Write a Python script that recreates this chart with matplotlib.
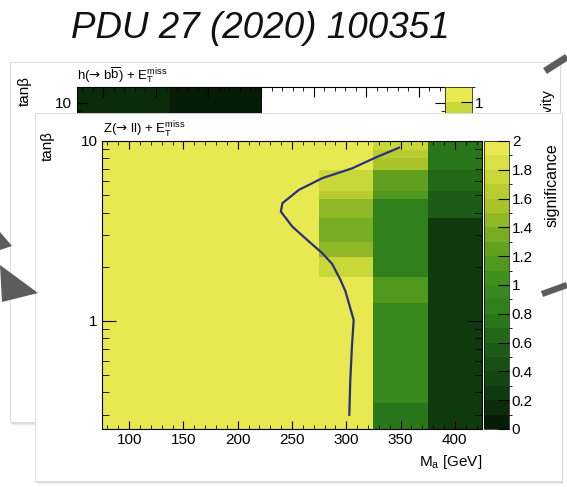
import numpy as np
import matplotlib
matplotlib.use('Agg')
import matplotlib.pyplot as plt
from matplotlib.colors import ListedColormap, BoundaryNorm
from matplotlib.patches import Rectangle, Polygon
from matplotlib.ticker import FixedLocator, MultipleLocator, LogLocator, NullFormatter, FuncFormatter

plt.rcParams['font.family'] = ['Liberation Sans', 'DejaVu Sans']
plt.rcParams['mathtext.fontset'] = 'custom'
plt.rcParams['mathtext.rm'] = 'Liberation Sans'
plt.rcParams['mathtext.it'] = 'Liberation Sans:italic'
plt.rcParams['mathtext.bf'] = 'Liberation Sans:bold'
plt.rcParams['mathtext.sf'] = 'DejaVu Sans'

# front plot: Z(->ll) + MET significance
ma_edges = [75, 125, 175, 225, 275, 325, 375, 425]
tanb_edges = [0.25, 0.35, 1.25, 1.75, 2.25, 2.75, 3.75, 4.75, 5.25, 6.9, 8.0, 8.9, 10]
# one list per M_a column, tan(beta) rows bottom -> top
sig_100 = [2, 2, 2, 2, 2, 2, 2, 2, 2, 2, 2, 2]
sig_150 = [2, 2, 2, 2, 2, 2, 2, 2, 2, 2, 2, 2]
sig_200 = [2, 2, 2, 2, 2, 2, 2, 2, 2, 2, 2, 2]
sig_250 = [2, 2, 2, 2, 2, 2, 2, 2, 2, 2, 2, 2]
sig_300 = [2, 2, 2, 1.72, 1.45, 1.35, 1.45, 1.6, 1.72, 2, 2, 2]
sig_350 = [0.75, 0.95, 1.15, 0.82, 0.82, 0.82, 0.82, 1.12, 1.25, 1.55, 1.62, 1.75]
sig_400 = [0.28, 0.28, 0.28, 0.28, 0.28, 0.28, 0.5, 0.5, 0.65, 0.75, 0.75, 0.75]
sig_ticks = [0, 0.2, 0.4, 0.6, 0.8, 1, 1.2, 1.4, 1.6, 1.8, 2]
ma_ticks = [100, 150, 200, 250, 300, 350, 400]

# 2 sigma contour
curve_ma = [348.6, 326.6, 305.2, 277.8, 265.6, 256.4, 241.2, 239.7, 250.3, 265.6,
            277.8, 287.0, 294.6, 299.2, 306.8, 305.2, 303.7, 302.8]
curve_tanb = [9.18, 8.07, 7.04, 6.21, 5.70, 5.35, 4.51, 4.05, 3.34, 2.76,
              2.38, 2.07, 1.69, 1.46, 1.01, 0.72, 0.47, 0.30]

# back plot: h(->bb) + MET (only the top strip is visible)
back_ma_edges = [75, 163, 251]
back_tanb_edges = [0.78, 12.3]
back_vals = [[0.12, 0.03]]

colors = ['#061c06', '#0a2c0a', '#0e3a0e', '#124612', '#165014', '#1c5c16', '#226818',
          '#2a761a', '#30801c', '#38881e', '#40901e', '#50981e', '#62a020', '#78ac22',
          '#90b826', '#a8c42a', '#b8cc30', '#c8d838', '#d8e048', '#e8e850']
cmap = ListedColormap(colors)
cmap.set_over('#e8e850')
norm = BoundaryNorm(np.linspace(0, 2, 21), 20)
back_norm = BoundaryNorm(np.linspace(0, 1.1, 12), 20)

W, H = 567, 487


def box(x0, y0, x1, y1):
    return [x0 / W, 1 - y1 / H, (x1 - x0) / W, (y1 - y0) / H]


def panel(a, x0, y0, x1, y1):
    for i, al in enumerate([0.06, 0.05, 0.04, 0.03]):
        a.add_patch(Rectangle((x0 + i * 0.7, y0 + i + 1), x1 - x0, y1 - y0,
                              fc='k', alpha=al, ec='none'))
    a.add_patch(Rectangle((x0, y0), x1 - x0, y1 - y0, fc='white', ec='#d8d8d8', lw=0.6))


fig = plt.figure(figsize=(W / 100, H / 100), dpi=100)

bg = fig.add_axes([0, 0, 1, 1])
bg.set_xlim(0, W)
bg.set_ylim(H, 0)
bg.axis('off')
bg.set_zorder(0)
bg.text(260, 28, 'PDU 27 (2020) 100351', ha='center', va='center',
        fontsize=26.5, style='italic', color='#111111')
panel(bg, 10, 62, 560, 422)
bg.add_patch(Polygon([(0, 232), (12, 246), (0, 250)], closed=True, fc='#5c5c5c', ec='none'))
bg.text(25, 91, 'tanβ', rotation=90, ha='center', va='center', fontsize=11)
bg.text(77, 75, r'h($\mathsf{→}$ b$\overline{\mathrm{b}}$) + E$_{\mathrm{T}}^{\mathrm{miss}}$',
        ha='left', va='center', fontsize=9.5)
sens = bg.text(548, 122, 'sensitivity', rotation=90, ha='center', va='center', fontsize=11,
               clip_on=True)
sens.set_clip_path(Rectangle((0, 0), W, 112, transform=bg.transData))

# back plot
axb = fig.add_axes(box(77, 87, 445, 300))
axb.set_zorder(1)
axb.pcolormesh(back_ma_edges, back_tanb_edges, back_vals, cmap=cmap, norm=back_norm)
axb.set_yscale('log')
axb.set_xlim(75, 425)
axb.set_ylim(0.78, 12.3)
axb.yaxis.set_major_locator(FixedLocator([1, 10]))
axb.yaxis.set_major_formatter(FuncFormatter(lambda v, p: f'{v:g}'))
axb.yaxis.set_minor_locator(LogLocator(subs=np.arange(2, 10), numticks=10))
axb.yaxis.set_minor_formatter(NullFormatter())
axb.xaxis.set_major_locator(MultipleLocator(50))
axb.xaxis.set_minor_locator(MultipleLocator(10))
axb.tick_params(which='both', direction='in', top=True, right=True, labelbottom=False,
                labelsize=11, pad=4)
axb.tick_params(which='major', length=7)
axb.tick_params(which='minor', length=3)
caxb = fig.add_axes(box(445, 87, 472, 252))
caxb.set_zorder(1)
cbb = fig.colorbar(plt.cm.ScalarMappable(norm=back_norm, cmap=cmap), cax=caxb, ticks=[1])
caxb.tick_params(direction='in', length=8, labelsize=11, pad=2)
cbb.outline.set_linewidth(0.5)

# front panel layer
fg = fig.add_axes([0, 0, 1, 1])
fg.set_xlim(0, W)
fg.set_ylim(H, 0)
fg.axis('off')
fg.set_zorder(2)
fg.patch.set_alpha(0)
panel(fg, 35, 113, 562, 481)
fg.add_patch(Polygon([(0, 265), (38, 293), (2, 302)], closed=True, fc='#5c5c5c', ec='none'))
fg.plot([542, 567], [294, 285], color='#5c5c5c', lw=4.5, solid_capstyle='butt')
fg.plot([545, 567], [71, 57], color='#5c5c5c', lw=5, solid_capstyle='butt')
fg.text(48, 146, 'tanβ', rotation=90, ha='center', va='center', fontsize=11)
fg.text(103, 130, r'Z($\mathsf{→}$ ll) + E$_{\mathrm{T}}^{\mathrm{miss}}$',
        ha='left', va='center', fontsize=9.5)
fg.text(482, 462, r'M$_{\mathrm{a}}$ [GeV]', ha='right', va='center', fontsize=11)
fg.text(552, 185, 'significance', rotation=90, ha='center', va='center', fontsize=11.5)

# front plot
sig = np.column_stack([sig_100, sig_150, sig_200, sig_250, sig_300, sig_350, sig_400])
ax = fig.add_axes(box(102, 141, 482, 429))
ax.set_zorder(3)
mesh = ax.pcolormesh(ma_edges, tanb_edges, sig, cmap=cmap, norm=norm)
ax.plot(curve_ma, curve_tanb, color='#2c2f7e', lw=1.6)
ax.set_yscale('log')
ax.set_xlim(75, 425)
ax.set_ylim(0.25, 10)
ax.xaxis.set_major_locator(FixedLocator(ma_ticks))
ax.xaxis.set_minor_locator(MultipleLocator(10))
ax.yaxis.set_major_locator(FixedLocator([1, 10]))
ax.yaxis.set_major_formatter(FuncFormatter(lambda v, p: f'{v:g}'))
ax.yaxis.set_minor_locator(LogLocator(subs=np.arange(2, 10), numticks=10))
ax.yaxis.set_minor_formatter(NullFormatter())
ax.tick_params(which='both', direction='in', top=True, right=True, labelsize=11, pad=3)
ax.tick_params(axis='x', which='major', length=6)
ax.tick_params(axis='x', which='minor', length=3)
ax.tick_params(axis='y', which='major', length=10)
ax.tick_params(axis='y', which='minor', length=5)

cax = fig.add_axes(box(484, 141, 509, 429))
cax.set_zorder(3)
cb = fig.colorbar(mesh, cax=cax, ticks=sig_ticks)
cb.ax.yaxis.set_major_formatter(FuncFormatter(lambda v, p: f'{v:g}'))
cax.tick_params(direction='in', length=8, labelsize=11, pad=2)
cb.outline.set_linewidth(0.5)

fig.savefig('out.png', dpi=100)
